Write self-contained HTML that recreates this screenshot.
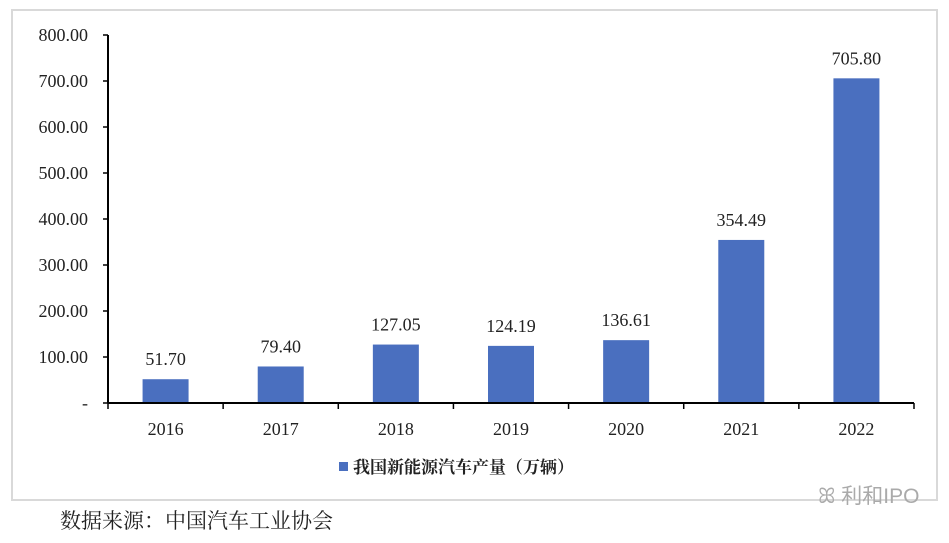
<!DOCTYPE html>
<html><head><meta charset="utf-8"><style>
body{margin:0;background:#fff;width:949px;height:538px;overflow:hidden;font-family:"Liberation Serif","Noto Serif CJK SC",serif;}
</style></head><body>
<svg width="949" height="538" xmlns="http://www.w3.org/2000/svg" font-family="Liberation Serif, Noto Serif CJK SC, serif">
<rect x="12" y="10" width="925" height="490" fill="#fff" stroke="#d9d9d9" stroke-width="2"/>
<g id="plot"></g>
<rect x="339" y="462" width="9" height="9" fill="#4a6fbf"/>
<text x="353" y="473" font-size="17" font-weight="bold" fill="#222">我国新能源汽车产量（万辆）</text>
<text x="818" y="503" font-size="21" fill="#aaa" font-family="Liberation Sans, Noto Sans CJK SC, sans-serif">ꕤ 利和IPO</text>
<text x="60" y="528" font-size="21" fill="#222">数据来源：中国汽车工业协会</text>
</svg>
<script>
const categories=["2016","2017","2018","2019","2020","2021","2022"];
const values=[51.70,79.40,127.05,124.19,136.61,354.49,705.80];
const yTicks=[0,100,200,300,400,500,600,700,800];
const yTickLabels=["-","100.00","200.00","300.00","400.00","500.00","600.00","700.00","800.00"];
const NS="http://www.w3.org/2000/svg";
const g=document.getElementById('plot');
const x0=108,x1=914,y0=403,yTop=35,yMax=800;
const bw=(x1-x0)/categories.length;
const y=v=>y0-(v/yMax)*(y0-yTop);
function mk(t,a){const e=document.createElementNS(NS,t);for(const k in a)e.setAttribute(k,a[k]);g.appendChild(e);return e;}
yTicks.forEach((v,i)=>{
 const l=mk('line',{x1:x0-5,x2:x0,y1:y(v),y2:y(v),stroke:'#000','stroke-width':1.5});
 
 
 const t=mk('text',{x:x0-20,y:y(v)+6,'text-anchor':'end','font-size':18,fill:'#222'});
 t.textContent=yTickLabels[i];
 
 
});
categories.forEach((c,i)=>{
 const cx=x0+bw*(i+0.5);
 const r=mk('rect',{x:cx-23,y:y(values[i]),width:46,height:y0-y(values[i]),fill:'#4a6fbf'});
 
 
 const vl=mk('text',{x:cx,y:y(values[i])-14,'text-anchor':'middle','font-size':18,fill:'#222'});
 vl.textContent=values[i].toFixed(2);
 
 
 const xl=mk('text',{x:cx,y:y0+32,'text-anchor':'middle','font-size':18,fill:'#222'});
 xl.textContent=c;
 
 
});
for(let i=0;i<=categories.length;i++){
 const tx=x0+bw*i;
 const l=mk('line',{x1:tx,x2:tx,y1:y0,y2:y0+6,stroke:'#000','stroke-width':1.5});
 
 
}
const ya=mk('line',{x1:x0,x2:x0,y1:yTop,y2:y0,stroke:'#000','stroke-width':2});


const xa=mk('line',{x1:x0,x2:x1,y1:y0,y2:y0,stroke:'#000','stroke-width':2});


</script>
</body></html>
